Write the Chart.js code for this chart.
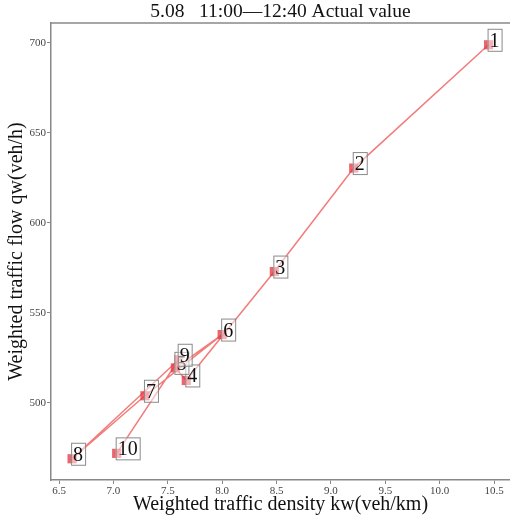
<!DOCTYPE html>
<html>
<head>
<meta charset="utf-8">
<script src="https://cdn.jsdelivr.net/npm/chart.js@4/dist/chart.umd.min.js"></script>
<style>
  body { margin: 0; background: #fff; }
  #wrap { width: 510px; height: 519px; }
</style>
</head>
<body>
<div id="wrap"><canvas id="flowChart"></canvas></div>
<script>
    // 10-minute samples, numbered in time order
    var pointLabels = ['1', '2', '3', '4', '5', '6', '7', '8', '9', '10'];
    var densityKw = [10.45, 9.21, 8.48, 7.67, 7.57, 8.0, 7.29, 6.62, 7.6, 7.03];
    var flowQw = [699, 630.5, 573, 512.5, 519.5, 538, 504, 469, 524, 472];

    var chartTitle = '5.08   11:00\u201412:40 Actual value';
    var serif = '"Liberation Serif", "Times New Roman", serif';

    // numbered boxes next to each point
    var boxLabels = {
        id: 'boxLabels',
        afterDatasetsDraw: function (chart) {
            var ctx = chart.ctx;
            var meta = chart.getDatasetMeta(0);
            ctx.save();
            ctx.font = '20px ' + serif;
            meta.data.forEach(function (pt, i) {
                var txt = pointLabels[i];
                var w = ctx.measureText(txt).width + 4;
                var left = pt.x - 1, top = pt.y - 16, h = 22;
                ctx.fillStyle = 'rgba(255,255,255,0.5)';
                ctx.fillRect(left, top, w, h);
                ctx.strokeStyle = '#8a8a8a';
                ctx.lineWidth = 1;
                ctx.strokeRect(left + 0.5, top + 0.5, w, h);
                ctx.fillStyle = '#111';
                ctx.fillText(txt, left + 2, top + 18);
            });
            ctx.restore();
        }
    };

    // top frame line and the title centred over the plot box
    var frameAndTitle = {
        id: 'frameAndTitle',
        afterDraw: function (chart) {
            var a = chart.chartArea, ctx = chart.ctx;
            ctx.save();
            ctx.strokeStyle = '#888';
            ctx.lineWidth = 1.5;
            ctx.beginPath();
            ctx.moveTo(a.left, a.top);
            ctx.lineTo(a.right, a.top);
            ctx.stroke();
            ctx.fillStyle = '#111';
            ctx.font = '19.5px ' + serif;
            ctx.textAlign = 'center';
            ctx.textBaseline = 'middle';
            ctx.fillText(chartTitle, (a.left + a.right) / 2, 12);
            ctx.restore();
        }
    };

    var points = densityKw.map(function (k, i) { return { x: k, y: flowQw[i] }; });

    var ctx = document.getElementById('flowChart').getContext('2d');
    var myChart = new Chart(ctx, {
        type: 'scatter',
        data: {
            datasets: [{
                data: points,
                showLine: true,
                borderColor: 'rgba(240,100,100,0.85)',
                borderWidth: 1.5,
                pointStyle: 'rect',
                pointRadius: 6.5,
                pointBackgroundColor: 'rgba(230,50,60,0.75)',
                pointBorderWidth: 0
            }]
        },
        options: {
            responsive: true,
            maintainAspectRatio: false,
            animation: false,
            layout: { autoPadding: false, padding: { top: 23, right: 0, left: 0, bottom: 0 } },
            plugins: {
                legend: { display: false },
                tooltip: { enabled: false },
                title: { display: false }
            },
            scales: {
                x: {
                    type: 'linear',
                    min: 6.426,
                    max: 10.647,
                    afterFit: function (s) { s.height = 39; s.paddingLeft = 0; s.paddingRight = 0; },
                    border: { color: '#888', width: 1.5 },
                    grid: { drawOnChartArea: false, tickLength: 4, color: '#888' },
                    ticks: {
                        stepSize: 0.5,
                        includeBounds: false,
                        padding: 1,
                        color: '#444',
                        font: { family: serif, size: 11 },
                        maxRotation: 0,
                        callback: function (v) { return v.toFixed(1); }
                    },
                    title: {
                        display: true,
                        text: 'Weighted traffic density kw(veh/km)',
                        color: '#111',
                        font: { family: serif, size: 20 },
                        padding: { top: 0, bottom: 2 }
                    }
                },
                y: {
                    min: 457.2,
                    max: 711.1,
                    afterFit: function (s) { s.width = 51; s.paddingTop = 0; s.paddingBottom = 0; },
                    border: { color: '#888', width: 1.5 },
                    grid: { drawOnChartArea: false, tickLength: 4, color: '#888' },
                    ticks: {
                        stepSize: 50,
                        includeBounds: false,
                        padding: 1,
                        color: '#444',
                        font: { family: serif, size: 11 }
                    },
                    title: {
                        display: true,
                        text: 'Weighted traffic flow qw(veh/h)',
                        color: '#111',
                        font: { family: serif, size: 20 },
                        padding: { top: 5, bottom: 0 }
                    }
                }
            }
        },
        plugins: [boxLabels, frameAndTitle]
    });
</script>
</body>
</html>
